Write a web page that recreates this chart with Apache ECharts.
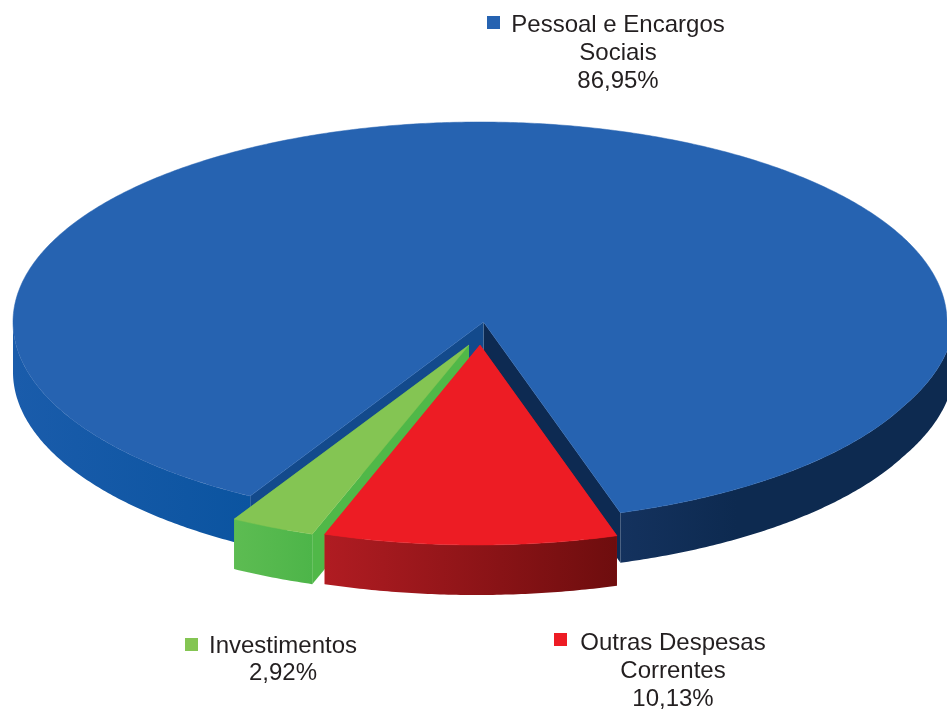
<!DOCTYPE html>
<html>
<head>
<meta charset="utf-8">
<style>html,body{margin:0;padding:0;background:#fff}#c{width:947px;height:714px}</style>
<script src="https://cdn.jsdelivr.net/npm/echarts@6/dist/echarts.min.js"></script>
</head>
<body>
<div id="c"></div>
<script>
var categories = ['Pessoal e Encargos Sociais', 'Investimentos', 'Outras Despesas Correntes'];
var shares = [86.95, 2.92, 10.13];
var shareLabels = ['86,95%', '2,92%', '10,13%'];
var labelLines = [['Pessoal e Encargos', 'Sociais'], ['Investimentos'], ['Outras Despesas', 'Correntes']];

var topColors = ['#2663b1', '#84c553', '#ed1c24'];
var sideLeft = ['#1a5cab', '#5dbc52', '#b01c22'];
var sideRight = ['#14325e', '#4db549', '#6e0d0e'];
var sideBlueLeftEnd = '#0b54a0';
var sideBlueRightEnd = '#0d2a50';
var wallColors = [['#134a8c', '#0d2a52'], ['#50b848', '#50b848'], ['#ed1c24', '#ed1c24']];
var centres = [[480, 322], [464, 345], [476.5, 345]];
var apexShift = [3.5, 5, 3.5];
var rx = 467, ry = 200, depth = 50, startDeg = 17.5;
var labelBoxes = [
  {cx: 618, y: 11, mx: 487, my: 16, lh: 28},
  {cx: 283, y: 633, mx: 185, my: 638, lh: 27},
  {cx: 673, y: 629, mx: 554, my: 633, lh: 28}
];

var total = shares.reduce(function (a, b) { return a + b; }, 0);

function pt(c, deg, dy) {
  var t = deg * Math.PI / 180;
  var x = c[0] + rx * Math.sin(t);
  // the reference's outline bulges slightly towards the right edge, low on the right
  if (deg > 65 && deg <= 90) x += 5 * Math.min(1, (deg - 65) / 17);
  return [x, c[1] + ry * Math.cos(t) + (dy || 0)];
}
function arc(c, a, b, dy) {
  var pts = [], n = Math.max(2, Math.ceil(Math.abs(b - a) * 2));
  for (var i = 0; i <= n; i++) pts.push(pt(c, a + (b - a) * i / n, dy));
  return pts;
}
function hgrad(stops) {
  return new echarts.graphic.LinearGradient(0, 0, 1, 0, stops);
}
function poly(points, fill, stroke) {
  return {type: 'polygon', shape: {points: points}, style: {fill: fill, stroke: stroke || null, lineWidth: stroke ? 0.5 : 0}};
}
function side(c, a, b, fill) {
  var top = arc(c, a, b, 0), bot = arc(c, a, b, depth).reverse();
  return poly(top.concat(bot), fill);
}
function wall(c, shift, deg, fill) {
  var p = pt(c, deg, 0), q = pt(c, deg, depth), ax = c[0] + shift;
  return poly([[ax, c[1]], p, q, [ax, c[1] + depth]], fill);
}

function renderSlice(params, api) {
  var i = params.dataIndex, before = 0;
  for (var k = 0; k < i; k++) before += shares[k];
  var a = startDeg + before / total * 360;
  var b = startDeg + (before + api.value(0)) / total * 360;
  var c = centres[i], s = apexShift[i], kids = [];
  kids.push(wall(c, s, a, wallColors[i][1]));
  kids.push(wall(c, s, b, wallColors[i][0]));
  if (i === 0) {
    kids.push(side(c, a, 90, hgrad([{offset: 0, color: sideRight[0]}, {offset: 0.35, color: sideBlueRightEnd}, {offset: 1, color: sideBlueRightEnd}])));
    kids.push(side(c, 270, b, hgrad([{offset: 0, color: sideLeft[0]}, {offset: 1, color: sideBlueLeftEnd}])));
  } else {
    kids.push(side(c, a, b, hgrad([{offset: 0, color: sideLeft[i]}, {offset: 1, color: sideRight[i]}])));
  }
  kids.push(poly([[c[0] + s, c[1]]].concat(arc(c, a, b, 0)), topColors[i], topColors[i]));
  return {type: 'group', children: kids};
}

var graphics = [];
labelBoxes.forEach(function (box, i) {
  var lines = labelLines[i].concat([shareLabels[i]]);
  graphics.push({type: 'rect', shape: {x: box.mx, y: box.my, width: 13, height: 13}, style: {fill: topColors[i]}});
  graphics.push({type: 'text', x: box.cx, y: box.y, silent: true, style: {
    text: lines.join('\n'), fill: '#231f20', align: 'center', verticalAlign: 'top',
    font: '24px "Liberation Sans", Arial, sans-serif', lineHeight: box.lh
  }});
});

var chart = echarts.init(document.getElementById('c'), null, {renderer: 'canvas'});
chart.setOption({
  animation: false,
  backgroundColor: '#fff',
  graphic: {elements: graphics},
  series: [{
    type: 'custom',
    coordinateSystem: 'none',
    renderItem: renderSlice,
    data: shares.map(function (v, i) { return {name: categories[i], value: [v]}; })
  }]
});
</script>
</body>
</html>
